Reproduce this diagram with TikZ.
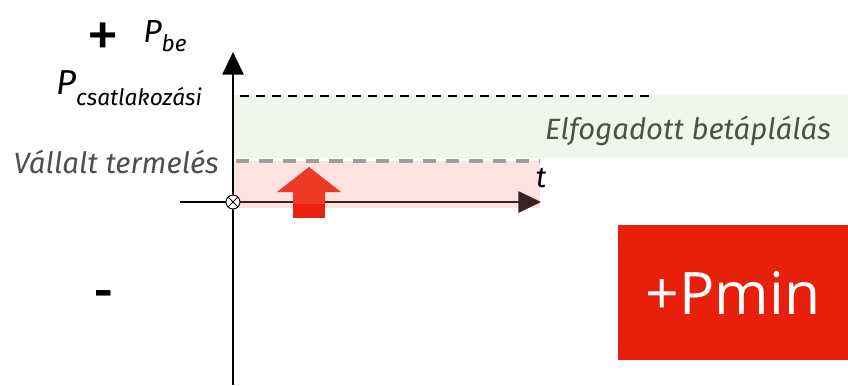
\documentclass[tikz,border=0pt]{standalone}
\usepackage{fontspec}
\setmainfont{Fira Sans}
\newfontfamily\boxfont{Open Sans}
\usetikzlibrary{arrows.meta, positioning}
\definecolor{acceptgreen}{HTML}{F1F6EA}
\definecolor{committedpink}{HTML}{FDE2E0}
\definecolor{dashgray}{HTML}{9E9E9E}
\definecolor{labelgray}{HTML}{4F4F4F}
\definecolor{axisbrown}{HTML}{3A2222}
\definecolor{pushred}{HTML}{EE3A24}
\definecolor{pushdark}{HTML}{E8200F}
\definecolor{boxred}{HTML}{E81F0B}
\newcommand*{\fsz}[1]{\fontsize{#1}{#1}\selectfont}

\begin{document}
\begin{tikzpicture}[x=0.75pt,y=-0.75pt,>={Triangle[length=17pt,width=16pt]},
      axis/.style={line width=1.5pt},
      caplimit/.style={line width=1.8pt,dash pattern=on 7pt off 5pt},
      committed/.style={draw=dashgray,line width=2.6pt,dash pattern=on 10pt off 7.5pt},
      band/.style={font=\itshape\fsz{22pt},text=labelgray,inner sep=0pt},
      sign/.style={font=\bfseries\fsz{34pt},inner sep=0pt}]
      \useasboundingbox (0,0) rectangle (848,385);
      % bands
      \fill[acceptgreen] (233,95) rectangle (848,158);
      \fill[committedpink] (233,161) rectangle (540,208);
      % axes
      \coordinate (ybot) at (233,385);
      \coordinate (ytop) at (233,52);
      \coordinate (xleft) at (180,202);
      \coordinate (xright) at (541,202);
      \draw[axis,->] (ybot) -- (ytop);
      \draw[axis] (xleft) -- (233,202);
      \draw[axis,->,draw=axisbrown,fill=axisbrown] (233,202) -- (xright);
      \node[draw,circle,fill=white,inner sep=0pt,minimum size=10.5pt,line width=0.7pt,
            path picture={\draw[line width=0.7pt]
              (path picture bounding box.north west) -- (path picture bounding box.south east)
              (path picture bounding box.north east) -- (path picture bounding box.south west);}]
            (origin) at (233,202) {};
      % levels
      \coordinate (capleft) at (240,96);
      \coordinate (capright) at (650,96);
      \draw[caplimit] (capleft) -- (capright);
      \coordinate (comleft) at (236,161);
      \coordinate (comright) at (540,161);
      \draw[committed] (comleft) -- (comright);
      % push arrow
      \fill[pushred] (293,205) -- (293,192) -- (277,192) -- (309,167) -- (341,192)
            -- (325,192) -- (325,205) -- cycle;
      \fill[pushdark] (293,204) rectangle (325,218);
      % labels
      \node[sign,font=\mdseries\fsz{50pt}] (plus) at (103,40) {+};
      \node[font=\itshape\fsz{24pt},anchor=west,inner sep=0pt] (pbe) at (143,36)
            {P\raisebox{-0.3em}{\fsz{17pt}be}};
      \node[font=\itshape\fsz{26pt},anchor=west,inner sep=0pt] (pcsat) at (56,88)
            {P\raisebox{-0.32em}{\fsz{17pt}csatlakozási}};
      \node[band,anchor=east] (vallalt) at (219,162) {Vállalt termelés};
      \node[band,anchor=east] (elfog) at (831,131) {Elfogadott betáplálás};
      \node[font=\itshape\fsz{22pt},inner sep=0pt] (t) at (541,178) {t};
      \node[sign] (minus) at (104,299) {-};
      \node[fill=boxred,text=white,minimum width=172.5pt,minimum height=101pt,
            font=\boxfont\fsz{44pt}] (pmin) at (733,292.5) {+Pmin};
    \end{tikzpicture}
\end{document}
